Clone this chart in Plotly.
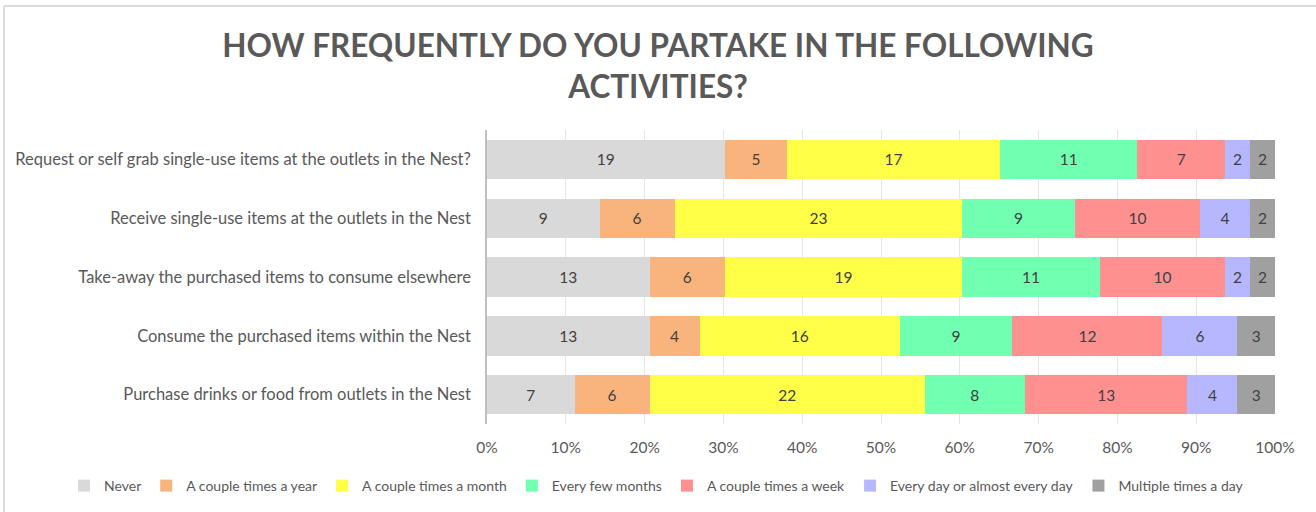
import plotly.graph_objects as go

categories = [
    "Request or self grab single-use items at the outlets in the Nest?",
    "Receive single-use items at the outlets in the Nest",
    "Take-away the purchased items to consume elsewhere",
    "Consume the purchased items within the Nest",
    "Purchase drinks or food from outlets in the Nest",
]
series_names = [
    "Never",
    "A couple times a year",
    "A couple times a month",
    "Every few months",
    "A couple times a week",
    "Every day or almost every day",
    "Multiple times a day",
]
never = [19, 9, 13, 13, 7]
couple_year = [5, 6, 6, 4, 6]
couple_month = [17, 23, 19, 16, 22]
few_months = [11, 9, 11, 9, 8]
couple_week = [7, 10, 10, 12, 13]
every_day = [2, 4, 2, 6, 4]
multiple_day = [2, 2, 2, 3, 3]
series_values = [never, couple_year, couple_month, few_months, couple_week, every_day, multiple_day]
colors = ["#D9D9D9", "#F8B47C", "#FFFF48", "#71FFB1", "#FF9090", "#B7B7FF", "#A0A0A0"]
tick_vals = list(range(0, 101, 10))
tick_text = [f"{v}%" for v in tick_vals]

FONT = "Lato, 'Open Sans', sans-serif"
L, R, T, B = 487, 41, 130, 88
W, H = 1316, 512
PW, PH = W - L - R, H - T - B


def px_x(px):
    return (px - L) / PW


def px_y(py):
    return (H - B - py) / PH


fig = go.Figure()
for name, vals, col in zip(series_names, series_values, colors):
    fig.add_trace(go.Bar(
        y=categories, x=vals, name=name, orientation="h",
        marker=dict(color=col, line=dict(width=0)),
        text=[str(v) for v in vals], textposition="inside",
        insidetextanchor="middle", textangle=0,
        textfont=dict(family=FONT, size=15.5, color="#404040"),
        hoverinfo="x+y+name",
    ))

fig.update_layout(
    barmode="stack", barnorm="percent", bargap=0.33,
    width=W, height=H,
    margin=dict(l=L, r=R, t=T, b=B, autoexpand=False),
    paper_bgcolor="white", plot_bgcolor="white",
    font=dict(family=FONT, size=14, color="#595959"),
    title=dict(
        text="<b>HOW FREQUENTLY DO YOU PARTAKE IN THE FOLLOWING<br>ACTIVITIES?</b>",
        x=0.5, xanchor="center", xref="container",
        y=0.889, yanchor="top", yref="container",
        font=dict(family=FONT, size=31.5, color="#595959"),
    ),
    uniformtext=dict(minsize=14, mode="show"),
    legend=dict(
        orientation="h", xref="paper", x=px_x(64), xanchor="left",
        yref="paper", y=px_y(486), yanchor="middle",
        font=dict(family=FONT, size=14, color="#595959"),
        itemwidth=30, traceorder="normal", tracegroupgap=0,
    ),
    showlegend=True,
)
fig.update_xaxes(
    range=[0, 100], tickvals=tick_vals, ticktext=tick_text,
    showgrid=True, gridcolor="rgba(0,0,0,0.10)", gridwidth=1,
    zeroline=False, showline=False, layer="above traces",
    ticks="", ticklabelstandoff=12, automargin=False,
    tickfont=dict(family=FONT, size=15.5, color="#595959"),
    fixedrange=True,
)
fig.update_yaxes(
    autorange="reversed", showgrid=False, zeroline=False,
    showline=True, linecolor="#BFBFBF", linewidth=1.5,
    ticks="", ticklabelstandoff=11, automargin=False,
    tickfont=dict(family=FONT, size=16.5, color="#595959"),
    fixedrange=True,
)
# outer chart frame (top and left edges visible)
fig.add_shape(type="line", xref="paper", yref="paper",
              x0=px_x(4), x1=px_x(1330), y0=px_y(6), y1=px_y(6),
              line=dict(color="#DADADA", width=2))
fig.add_shape(type="line", xref="paper", yref="paper",
              x0=px_x(4), x1=px_x(4), y0=px_y(6), y1=px_y(530),
              line=dict(color="#DADADA", width=2))

fig.write_html("out.html", config={"displayModeBar": False},
               post_script="document.body.style.margin='0';document.body.style.overflow='hidden';")
